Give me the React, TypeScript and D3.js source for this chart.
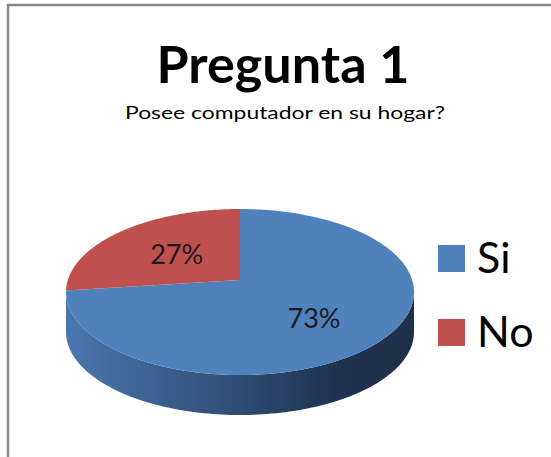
import React, { useEffect, useRef } from 'react';
import * as d3 from 'd3';

const categories = ['Si', 'No'];
const values = [73, 27];
const colors = ['#4f81bd', '#c0504d'];
const title = 'Pregunta 1';
const subtitle = 'Posee computador en su hogar?';

const W = 551;
const H = 457;

export default function App() {
  const ref = useRef<SVGSVGElement>(null);

  useEffect(() => {
    const svg = d3.select(ref.current);
    svg.selectAll('*').remove();

    // frame
    svg.append('rect')
      .attr('x', 8).attr('y', 5)
      .attr('width', 560).attr('height', 470)
      .attr('fill', '#fff')
      .attr('stroke', '#898989')
      .attr('stroke-width', 2.5);

    svg.append('text')
      .attr('x', 283).attr('y', 83)
      .attr('text-anchor', 'middle')
      .attr('font-family', 'Lato')
      .attr('font-weight', 'bold')
      .attr('font-size', 52)
      .attr('textLength', 253)
      .attr('lengthAdjust', 'spacingAndGlyphs')
      .text(title);

    svg.append('text')
      .attr('x', 285).attr('y', 119)
      .attr('text-anchor', 'middle')
      .attr('font-family', 'Lato')
      .attr('font-size', 18)
      .attr('textLength', 320)
      .attr('lengthAdjust', 'spacingAndGlyphs')
      .text(subtitle);

    // 3d pie geometry
    const cx = 240, cy = 292, rx = 174, ry = 83, off = 12, depth = 40;
    const vx = cx, vy = cy - off;

    // point on the rim for a pie angle, seen from the projected centre
    const rim = (a: number) => {
      const dx = rx * Math.sin(a), dy = -ry * Math.cos(a);
      const A = dx / rx, B = dy / ry, q = (vy - cy) / ry;
      const k = A * A + B * B;
      const s = (-q * B + Math.sqrt(q * q * B * B - k * (q * q - 1))) / k;
      return [vx + s * dx, vy + s * dy];
    };

    const pie = d3.pie<number>().sort(null).value((d) => d);
    const arcs = pie(values);

    const defs = svg.append('defs');
    const grad = defs.append('linearGradient')
      .attr('id', 'side')
      .attr('gradientUnits', 'userSpaceOnUse')
      .attr('x1', cx - rx).attr('x2', cx + rx)
      .attr('y1', 0).attr('y2', 0);
    grad.append('stop').attr('offset', 0).attr('stop-color', '#4b76ae');
    grad.append('stop').attr('offset', 0.5).attr('stop-color', '#2f4c74');
    grad.append('stop').attr('offset', 0.78).attr('stop-color', '#1f3250');
    grad.append('stop').attr('offset', 1).attr('stop-color', '#1f3049');

    const line = d3.line();

    // sides (front half only)
    arcs.forEach((d) => {
      const n = 200;
      const pts: [number, number][] = [];
      for (let i = 0; i <= n; i++) {
        const a = d.startAngle + (d.endAngle - d.startAngle) * i / n;
        const p = rim(a);
        if (p[1] >= cy - 0.5) pts.push([p[0], p[1]]);
      }
      if (pts.length < 2) return;
      const bottom = pts.map((p) => [p[0], p[1] + depth] as [number, number]).reverse();
      svg.append('path')
        .attr('d', line([...pts, ...bottom]) + 'Z')
        .attr('fill', d.index === 0 ? 'url(#side)' : '#7a302e');
    });

    // tops
    arcs.forEach((d) => {
      const n = 200;
      const pts: [number, number][] = [[vx, vy]];
      for (let i = 0; i <= n; i++) {
        const a = d.startAngle + (d.endAngle - d.startAngle) * i / n;
        const p = rim(a);
        pts.push([p[0], p[1]]);
      }
      svg.append('path')
        .attr('d', line(pts) + 'Z')
        .attr('fill', colors[d.index]);
    });

    // percentage labels
    const labelPos = [0.52, 0.54];
    const labelDy = [6, 0];
    const total = d3.sum(values);
    arcs.forEach((d) => {
      const mid = (d.startAngle + d.endAngle) / 2;
      const p = rim(mid);
      const f = labelPos[d.index];
      svg.append('text')
        .attr('x', vx + (p[0] - vx) * f)
        .attr('y', vy + (p[1] - vy) * f + labelDy[d.index])
        .attr('text-anchor', 'middle')
        .attr('dominant-baseline', 'central')
        .attr('font-family', 'Lato')
        .attr('font-size', 27)
        .attr('fill', '#1a1a1a')
        .text(Math.round(d.value / total * 100) + '%');
    });

    // legend
    categories.forEach((c, i) => {
      const y = 245 + i * 74;
      svg.append('rect')
        .attr('x', 438).attr('y', y)
        .attr('width', 27).attr('height', 27)
        .attr('fill', colors[i]);
      svg.append('text')
        .attr('x', 477).attr('y', y + 28)
        .attr('font-family', 'Lato')
        .attr('font-size', 43)
        .attr('fill', '#000')
        .text(c);
    });
  }, []);

  return (
    <svg ref={ref} width={W} height={H}
      style={{ position: 'fixed', left: 0, top: 0, background: '#fff' }} />
  );
}
